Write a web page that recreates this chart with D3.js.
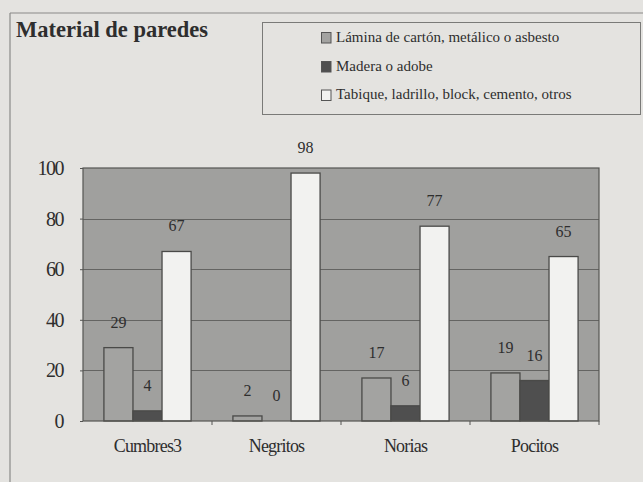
<!DOCTYPE html>
<html>
<head>
    <meta charset="utf-8">
</head>
<body>
    <style>
        body, html {
            margin: 0;
            padding: 0;
            background: #e4e3e0;
        }
        svg { display: block; }
    </style>

    <svg width="643" height="482"></svg>

    <script src="https://d3js.org/d3.v7.min.js"></script>

    <script>
        var categories = ["Cumbres3", "Negritos", "Norias", "Pocitos"];
        var series = ["Lámina de cartón, metálico o asbesto", "Madera o adobe", "Tabique, ladrillo, block, cemento, otros"];
        var lamina = [29, 2, 17, 19];
        var madera = [4, 0, 6, 16];
        var tabique = [67, 98, 77, 65];
        var yTicks = [0, 20, 40, 60, 80, 100];

        var seriesColors = ["#a3a3a1", "#4f4f4f", "#f2f2f0"];
        var values = [lamina, madera, tabique];
        var serif = "Liberation Serif";
        var ink = "#2e2e2e";

        var svg = d3.select("svg");
        var width = 643, height = 482;
        var plot = { left: 83, right: 599, top: 168, bottom: 421 };

        // frame lines of the scanned page
        svg.append("line").attr("x1", 10).attr("x2", 10).attr("y1", 13).attr("y2", height)
            .attr("stroke", "#8a8a88").attr("stroke-width", 1.2);
        svg.append("line").attr("x1", 10).attr("x2", width).attr("y1", 13).attr("y2", 13)
            .attr("stroke", "#8a8a88").attr("stroke-width", 1.2);

        // title
        svg.append("text").attr("x", 16).attr("y", 37)
            .attr("font-family", serif).attr("fill", ink)
            .attr("font-size", 22.5).attr("font-weight", "bold")
            .text("Material de paredes");

        // legend
        svg.append("rect").attr("x", 262.5).attr("y", 22.5).attr("width", 378).attr("height", 92)
            .attr("fill", "none").attr("stroke", "#7a7a78");
        var legendY = [37.5, 66.5, 95];
        var legend = svg.selectAll(".leg").data(series).enter().append("g")
            .attr("transform", function (d, i) { return "translate(321," + legendY[i] + ")"; });
        legend.append("rect").attr("x", 0.5).attr("y", -5).attr("width", 9.5).attr("height", 10.5)
            .attr("fill", function (d, i) { return seriesColors[i]; })
            .attr("stroke", "#555");
        legend.append("text").attr("x", 15).attr("y", 4)
            .attr("font-family", serif).attr("fill", ink).attr("font-size", 15)
            .text(function (d) { return d; });

        // scales
        var x0 = d3.scaleBand().domain(categories).range([plot.left, plot.right]);
        var x1 = d3.scaleBand().domain(d3.range(series.length))
            .range([0, x0.bandwidth()]).paddingOuter(0.72);
        var y = d3.scaleLinear().domain([0, 100]).range([plot.bottom, plot.top]);

        // plot background
        svg.append("rect").attr("x", plot.left).attr("y", plot.top)
            .attr("width", plot.right - plot.left).attr("height", plot.bottom - plot.top)
            .attr("fill", "#a0a09e");

        // gridlines
        svg.selectAll(".grid").data(yTicks.slice(1, -1)).enter().append("line")
            .attr("x1", plot.left).attr("x2", plot.right)
            .attr("y1", function (d) { return Math.round(y(d)) + 0.5; })
            .attr("y2", function (d) { return Math.round(y(d)) + 0.5; })
            .attr("stroke", "#646462").attr("stroke-width", 1.2);

        // bars
        var groups = svg.selectAll(".grp").data(categories).enter().append("g")
            .attr("transform", function (d) { return "translate(" + x0(d) + ",0)"; });

        groups.selectAll("rect").data(function (d, ci) {
            return values.map(function (v, si) { return { s: si, v: v[ci] }; });
        }).enter().append("rect")
            .attr("x", function (d) { return x1(d.s); })
            .attr("width", x1.bandwidth())
            .attr("y", function (d) { return y(d.v); })
            .attr("height", function (d) { return y(0) - y(d.v); })
            .attr("fill", function (d) { return seriesColors[d.s]; })
            .attr("stroke", "#4a4a48").attr("stroke-width", 1.3);

        groups.selectAll(".lbl").data(function (d, ci) {
            return values.map(function (v, si) { return { s: si, v: v[ci] }; });
        }).enter().append("text")
            .attr("x", function (d) { return x1(d.s) + x1.bandwidth() / 2; })
            .attr("y", function (d) { return y(d.v) - 20; })
            .attr("text-anchor", "middle")
            .attr("font-family", serif).attr("fill", ink).attr("font-size", 16)
            .text(function (d) { return d.v; });

        // plot border
        svg.append("rect").attr("x", plot.left).attr("y", plot.top)
            .attr("width", plot.right - plot.left).attr("height", plot.bottom - plot.top)
            .attr("fill", "none").attr("stroke", "#555553").attr("stroke-width", 1.2);

        // axes
        var yAxis = svg.append("g").attr("transform", "translate(" + plot.left + ",0)")
            .call(d3.axisLeft(y).tickValues(yTicks).tickSize(3).tickPadding(17));
        yAxis.select(".domain").remove();
        yAxis.selectAll("line").attr("stroke", "#555553");
        yAxis.selectAll("text").attr("font-size", 20).attr("letter-spacing", -1.5)
            .attr("font-family", serif).attr("fill", ink);

        var xAxis = svg.append("g").attr("transform", "translate(0," + plot.bottom + ")")
            .call(d3.axisBottom(x0).tickSize(0).tickPadding(18));
        xAxis.select(".domain").remove();
        xAxis.selectAll("text").attr("font-size", 18).attr("letter-spacing", -0.8)
            .attr("font-family", serif).attr("fill", ink);
        svg.selectAll(".xtick").data(categories).enter().append("line")
            .attr("x1", function (d) { return x0(d) + x0.bandwidth(); })
            .attr("x2", function (d) { return x0(d) + x0.bandwidth(); })
            .attr("y1", plot.bottom).attr("y2", plot.bottom + 4)
            .attr("stroke", "#555553");
    </script>
</body>
</html>
